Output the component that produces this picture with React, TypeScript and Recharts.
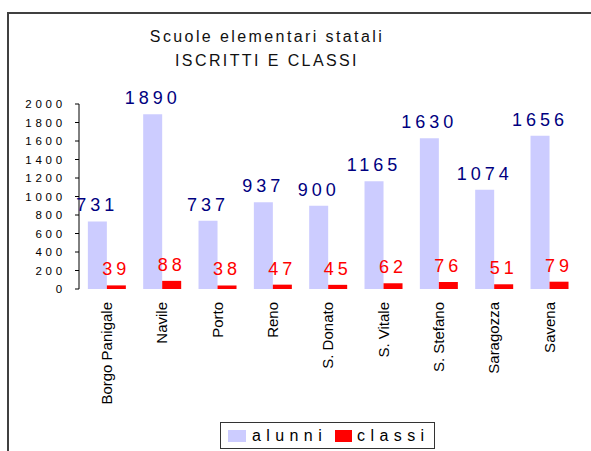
import React from 'react';
import { BarChart, Bar, XAxis, YAxis, LabelList, Legend } from 'recharts';

const categories = ['Borgo Panigale', 'Navile', 'Porto', 'Reno', 'S. Donato', 'S. Vitale', 'S. Stefano', 'Saragozza', 'Savena'];
const alunni = [731, 1890, 737, 937, 900, 1165, 1630, 1074, 1656];
const classi = [39, 88, 38, 47, 45, 62, 76, 51, 79];
const yTicks = [0, 200, 400, 600, 800, 1000, 1200, 1400, 1600, 1800, 2000];
const boundaryTicks = [0, 1, 2, 3, 4, 5, 6, 7, 8, 9];

const data = categories.map((name, i) => ({ name, alunni: alunni[i], classi: classi[i] }));

const FONT = '"Liberation Sans", Arial, Helvetica, sans-serif';
const LAVENDER = '#CCCCFF';
const RED = '#FF0000';
const NAVY = '#000080';

const CatTick = (props: any) => {
  const { x, y, payload } = props;
  return (
    <g transform={`translate(${x},${y})`}>
      <text
        x={-13}
        y={0}
        dy="0.35em"
        transform="rotate(-90)"
        textAnchor="end"
        fontSize={15}
        fontFamily={FONT}
        fill="#000"
      >
        {payload.value}
      </text>
    </g>
  );
};

const EmptyTick = () => <g />;

const LegendContent = () => (
  <div
    style={{
      width: 215,
      height: 27,
      boxSizing: 'border-box',
      border: '1.5px solid #333',
      background: '#fff',
      display: 'flex',
      alignItems: 'center',
      fontFamily: FONT,
      fontSize: 16,
      letterSpacing: 5.4,
      color: '#000',
    }}
  >
    <span style={{ display: 'inline-block', width: 18, height: 12, background: LAVENDER, marginLeft: 7, marginRight: 6 }} />
    <span>alunni</span>
    <span style={{ display: 'inline-block', width: 17, height: 12, background: RED, marginLeft: 8, marginRight: 5 }} />
    <span>classi</span>
  </div>
);

export default function App() {
  return (
    <div style={{ position: 'absolute', left: 0, top: 0, width: 591, height: 451, overflow: 'hidden', background: '#fff' }}>
      <div
        style={{
          position: 'absolute',
          left: 7,
          top: 12,
          width: 620,
          height: 480,
          borderTop: '2px solid #404040',
          borderLeft: '2px solid #404040',
          boxSizing: 'border-box',
        }}
      />
      <div
        style={{
          position: 'absolute',
          left: 0,
          top: 24.5,
          width: 534,
          textAlign: 'center',
          fontFamily: FONT,
          fontSize: 16,
          lineHeight: '24px',
          letterSpacing: 2.4,
          color: '#111',
        }}
      >
        <div>Scuole elementari statali</div>
        <div>ISCRITTI E CLASSI</div>
      </div>
      <div style={{ position: 'absolute', left: 0, top: 0 }}>
        <BarChart
          width={591}
          height={451}
          data={data}
          margin={{ top: 104, right: 14, bottom: 42, left: 0 }}
          barCategoryGap="16%"
          barGap={0}
        >
          <XAxis
            xAxisId="num"
            type="number"
            domain={[0, 9]}
            allowDataOverflow
            ticks={boundaryTicks}
            height={0}
            tickSize={5}
            tick={EmptyTick}
            stroke="#000"
            axisLine={{ stroke: '#000' }}
            tickLine={{ stroke: '#000' }}
          />
          <XAxis
            xAxisId="cat"
            dataKey="name"
            height={120}
            interval={0}
            tickLine={false}
            axisLine={false}
            tickSize={0}
            tickMargin={0}
            tick={<CatTick />}
          />
          <YAxis
            domain={[0, 2000]}
            ticks={yTicks}
            width={79}
            tickSize={4}
            tickMargin={9}
            stroke="#000"
            axisLine={{ stroke: '#000' }}
            tickLine={{ stroke: '#000' }}
            tick={{ fontSize: 11.5, fontFamily: FONT, fill: '#000', letterSpacing: 3.8 }}
          />
          <Legend
            layout="horizontal"
            verticalAlign="middle"
            align="center"
            content={<LegendContent />}
            wrapperStyle={{ left: 220, top: 422, width: 215, height: 27 }}
          />
          <Bar xAxisId="cat" dataKey="alunni" fill={LAVENDER} isAnimationActive={false}>
            <LabelList
              dataKey="alunni"
              position="top"
              offset={10}
              fill={NAVY}
              fontSize={18}
              fontFamily={FONT}
              letterSpacing={4}
            />
          </Bar>
          <Bar xAxisId="cat" dataKey="classi" fill={RED} isAnimationActive={false}>
            <LabelList
              dataKey="classi"
              position="top"
              offset={10}
              fill={RED}
              fontSize={18}
              fontFamily={FONT}
              letterSpacing={4}
            />
          </Bar>
        </BarChart>
      </div>
    </div>
  );
}
